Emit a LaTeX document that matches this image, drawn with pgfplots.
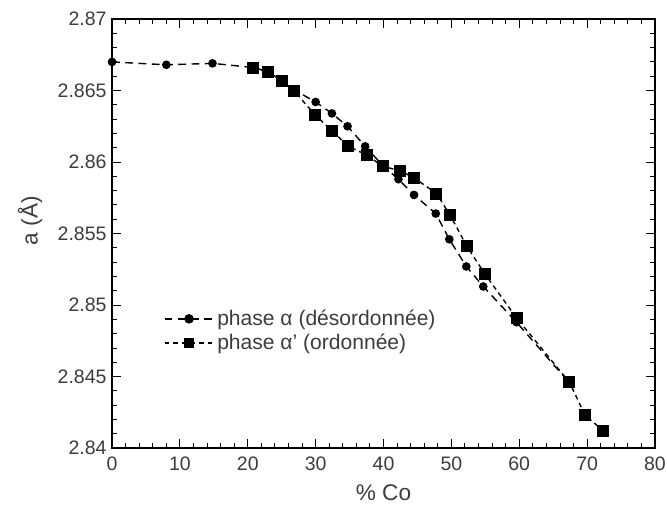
\documentclass[border=0pt]{standalone}
\usepackage{fontspec}
\setmainfont{Liberation Sans}
\usepackage{pgfplots}
\pgfplotsset{compat=1.18}
\definecolor{labgray}{HTML}{3C3C3C}

\begin{document}
\begin{tikzpicture}
% frame of the whole picture, so the axis sits where it sits in the reference
\path[use as bounding box] (-71.8pt,-38.5pt) rectangle (355.7pt,287.2pt);
\begin{axis}[
  scale only axis,
  width=348pt, height=275pt,
  xmin=0, xmax=80, ymin=2.84, ymax=2.87,
  xtick={0,10,...,80},
  ytick={2.84,2.845,2.85,2.855,2.86,2.865,2.87},
  minor x tick num=4,
  minor y tick num=4,
  tick align=inside,
  major tick length=6pt,
  minor tick length=3.5pt,
  axis line style={black, line width=0.8pt},
  tick style={black, line width=0.6pt},
  scaled y ticks=false,
  /pgf/number format/.cd, fixed, precision=3, assume math mode=true,
  /pgfplots/.cd,
  ticklabel style={font=\fontsize{12.5}{14}\selectfont, text=labgray},
  xticklabel style={yshift=-2pt},
  xlabel={\% Co},
  ylabel={a (Å)},
  label style={font=\fontsize{14.5}{16}\selectfont, text=labgray},
  xlabel style={at={(axis description cs:0.5,-0.105)}, anchor=center},
  ylabel style={at={(axis description cs:-0.151,0.53)}, anchor=center, rotate=0},
  legend style={draw=none, fill=none, at={(0.095,0.33)}, anchor=north west,
    inner sep=0pt, font=\fontsize{13.5}{15}\selectfont, text=labgray,
    row sep=0pt, legend cell align=left},
  legend image code/.code={
    \draw[#1] (0cm,0cm) -- (1.1cm,0cm);
    \draw[#1, solid, mark size=2.6pt] plot coordinates {(0.55cm,0cm)};
  },
]
\addplot[black, line width=0.9pt, dash pattern=on 5pt off 3.5pt,
  mark=*, mark size=2.3pt, mark options={solid}] coordinates {
  (0,2.8670) (8,2.8668) (14.8,2.8669) (21,2.8666) (23,2.8663) (25,2.8657)
  (27,2.8650) (30,2.8642) (32.4,2.8634) (34.7,2.8625) (37.3,2.8611)
  (40,2.8597) (42.2,2.8588) (44.5,2.8577) (47.7,2.8564) (49.7,2.8546)
  (52.2,2.8527) (54.7,2.8513) (59.6,2.8488) (67.5,2.8445)
};
\addlegendentry{phase α (désordonnée)}
\addplot[black, line width=0.9pt, dash pattern=on 3pt off 2.5pt,
  mark=square*, mark size=3.4pt, mark options={solid}] coordinates {
  (20.8,2.8666) (23,2.8663) (25,2.8657) (26.8,2.8650) (29.9,2.8633)
  (32.4,2.8622) (34.8,2.8611) (37.5,2.8605) (39.9,2.8597) (42.4,2.8594)
  (44.5,2.8589) (47.8,2.8578) (49.8,2.8563) (52.3,2.8541) (54.9,2.8522)
  (59.6,2.8491) (67.4,2.8446) (69.7,2.8423) (72.4,2.8412)
};
\addlegendentry{phase α' (ordonnée)}
\end{axis}
\end{tikzpicture}
\end{document}
